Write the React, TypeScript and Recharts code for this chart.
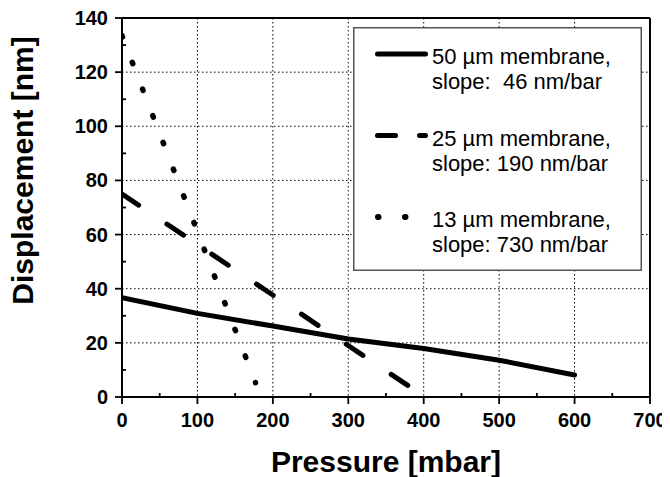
import React from 'react';
import { LineChart, Line, XAxis, YAxis, CartesianGrid, Legend, Label } from 'recharts';

// ---- tick values ----
const xAllTicks = [0, 50, 100, 150, 200, 250, 300, 350, 400, 450, 500, 550, 600, 650, 700];
const yAllTicks = [0, 10, 20, 30, 40, 50, 60, 70, 80, 90, 100, 110, 120, 130, 140];
const xGridValues = [100, 200, 300, 400, 500, 600];
const yGridValues = [20, 40, 60, 80, 100, 120];

// ---- series ----
const solidPressure = [0, 100, 200, 300, 400, 500, 600];
const solidDisplacement = [36.7, 30.9, 26.2, 21.4, 17.9, 13.6, 8.1];
const dashedPressure = [0, 383];
const dashedDisplacement = [75, 3.5];
const dottedPressure = [0, 177];
const dottedDisplacement = [133.5, 5.3];

const seriesNames = ['50 µm membrane,', '25 µm membrane,', '13 µm membrane,'];
const slopeLabels = ['slope:  46 nm/bar', 'slope: 190 nm/bar', 'slope: 730 nm/bar'];

const toData = (xs: number[], ys: number[]) => xs.map((p, i) => ({ p, d: ys[i] }));
const solidData = toData(solidPressure, solidDisplacement);
const dashedData = toData(dashedPressure, dashedDisplacement);
const dottedData = toData(dottedPressure, dottedDisplacement);

const FONT = '"Liberation Sans", Arial, Helvetica, sans-serif';
const TICK_W = 1.8;

const XBottomTick = (props: any) => {
  const { x, y, payload } = props;
  const major = payload.value % 100 === 0;
  const y2 = major ? y + 7 : y - 4;
  return (
    <g>
      <path d={`M${x},${y}L${x},${y2}`} stroke="#000" strokeWidth={TICK_W} fill="none" />
      {major && (
        <text x={x} y={y + 30} textAnchor="middle" fontFamily={FONT} fontWeight={700} fontSize={20} fill="#000">
          {payload.value}
        </text>
      )}
    </g>
  );
};

const XTopTick = (props: any) => {
  const { x, y, payload } = props;
  const major = payload.value % 100 === 0;
  return <path d={`M${x},${y}L${x},${y + (major ? 6 : 4)}`} stroke="#000" strokeWidth={TICK_W} fill="none" />;
};

const YLeftTick = (props: any) => {
  const { x, y, payload } = props;
  const major = payload.value % 20 === 0;
  const x2 = major ? x - 7 : x + 4;
  return (
    <g>
      <path d={`M${x},${y}L${x2},${y}`} stroke="#000" strokeWidth={TICK_W} fill="none" />
      {major && (
        <text x={x - 14} y={y + 7} textAnchor="end" fontFamily={FONT} fontWeight={700} fontSize={20} fill="#000">
          {payload.value}
        </text>
      )}
    </g>
  );
};

const YRightTick = (props: any) => {
  const { x, y, payload } = props;
  const major = payload.value % 20 === 0;
  return <path d={`M${x},${y}L${x - (major ? 6 : 4)},${y}`} stroke="#000" strokeWidth={TICK_W} fill="none" />;
};

const XTitle = (props: any) => {
  const vb = props.viewBox;
  return (
    <text x={vb.x + vb.width / 2} y={vb.y + 75} textAnchor="middle" fontFamily={FONT} fontWeight={700} fontSize={30} fill="#000">
      Pressure [mbar]
    </text>
  );
};

const YTitle = (props: any) => {
  const vb = props.viewBox;
  const cx = vb.x + 25;
  const cy = vb.y + vb.height / 2 - 37;
  return (
    <text x={cx} y={cy} transform={`rotate(-90, ${cx}, ${cy})`} textAnchor="middle" fontFamily={FONT} fontWeight={700} fontSize={30} fill="#000">
      Displacement [nm]
    </text>
  );
};

const legendDash = [undefined, '18 24', '0.5 26.5'];
const legendStart = [24.5, 24.5, 25];
const legendEnd = [72.5, 72.5, 75];

const renderLegend = () => (
  <svg width={289} height={244} style={{ display: 'block' }}>
    <rect x={0.75} y={0.75} width={287.5} height={242.5} fill="#fff" stroke="#555" strokeWidth={1.5} />
    {seriesNames.map((name, i) => {
      const cy = 27 + i * 81.5;
      return (
        <g key={name}>
          <line x1={legendStart[i]} x2={legendEnd[i]} y1={cy} y2={cy} stroke="#000" strokeWidth={i === 2 ? 6 : 5} strokeLinecap="round" strokeDasharray={legendDash[i]} />
          <text x={79} y={cy + 10} fontFamily={FONT} fontSize={22} fill="#000" style={{ whiteSpace: 'pre' }}>{name}</text>
          <text x={79} y={cy + 35} fontFamily={FONT} fontSize={22} fill="#000" style={{ whiteSpace: 'pre' }}>{slopeLabels[i]}</text>
        </g>
      );
    })}
  </svg>
);

const AXIS_LINE = { stroke: '#000', strokeWidth: 2 };

export default function App() {
  return (
    <div style={{ width: 662, height: 469, background: '#fff' }}>
      <LineChart width={662} height={469} margin={{ top: 9, right: 19, left: 0, bottom: 0 }}>
        <CartesianGrid horizontalValues={yGridValues} verticalValues={xGridValues} stroke="#000" strokeWidth={1} strokeDasharray="1.5 2.5" />
        <XAxis type="number" dataKey="p" domain={[0, 700]} ticks={xAllTicks} interval={0} height={80} tickSize={0} tickMargin={0} tickLine={false} tick={<XBottomTick />} axisLine={AXIS_LINE} allowDataOverflow>
          <Label content={<XTitle />} />
        </XAxis>
        <XAxis xAxisId="top" orientation="top" type="number" dataKey="p" domain={[0, 700]} ticks={xAllTicks} interval={0} height={1} tickSize={0} tickMargin={0} tickLine={false} tick={<XTopTick />} axisLine={AXIS_LINE} />
        <YAxis type="number" domain={[0, 140]} ticks={yAllTicks} interval={0} width={114} tickSize={0} tickMargin={0} tickLine={false} tick={<YLeftTick />} axisLine={AXIS_LINE} allowDataOverflow>
          <Label content={<YTitle />} />
        </YAxis>
        <YAxis yAxisId="right" orientation="right" type="number" domain={[0, 140]} ticks={yAllTicks} interval={0} width={1} tickSize={0} tickMargin={0} tickLine={false} tick={<YRightTick />} axisLine={AXIS_LINE} />
        <Line data={solidData} dataKey="d" name={seriesNames[0]} type="linear" stroke="#000" strokeWidth={5} strokeLinecap="round" dot={false} activeDot={false} isAnimationActive={false} />
        <Line data={dashedData} dataKey="d" name={seriesNames[1]} type="linear" stroke="#000" strokeWidth={5} strokeLinecap="round" strokeDasharray="20 34" dot={false} activeDot={false} isAnimationActive={false} />
        <Line data={dottedData} dataKey="d" name={seriesNames[2]} type="linear" stroke="#000" strokeWidth={5.5} strokeLinecap="round" strokeDasharray="1.5 27.1" dot={false} activeDot={false} isAnimationActive={false} />
        <Legend layout="horizontal" verticalAlign="middle" align="center" content={renderLegend} wrapperStyle={{ position: 'absolute', left: 345, top: 19, width: 289, height: 244 }} />
      </LineChart>
    </div>
  );
}
